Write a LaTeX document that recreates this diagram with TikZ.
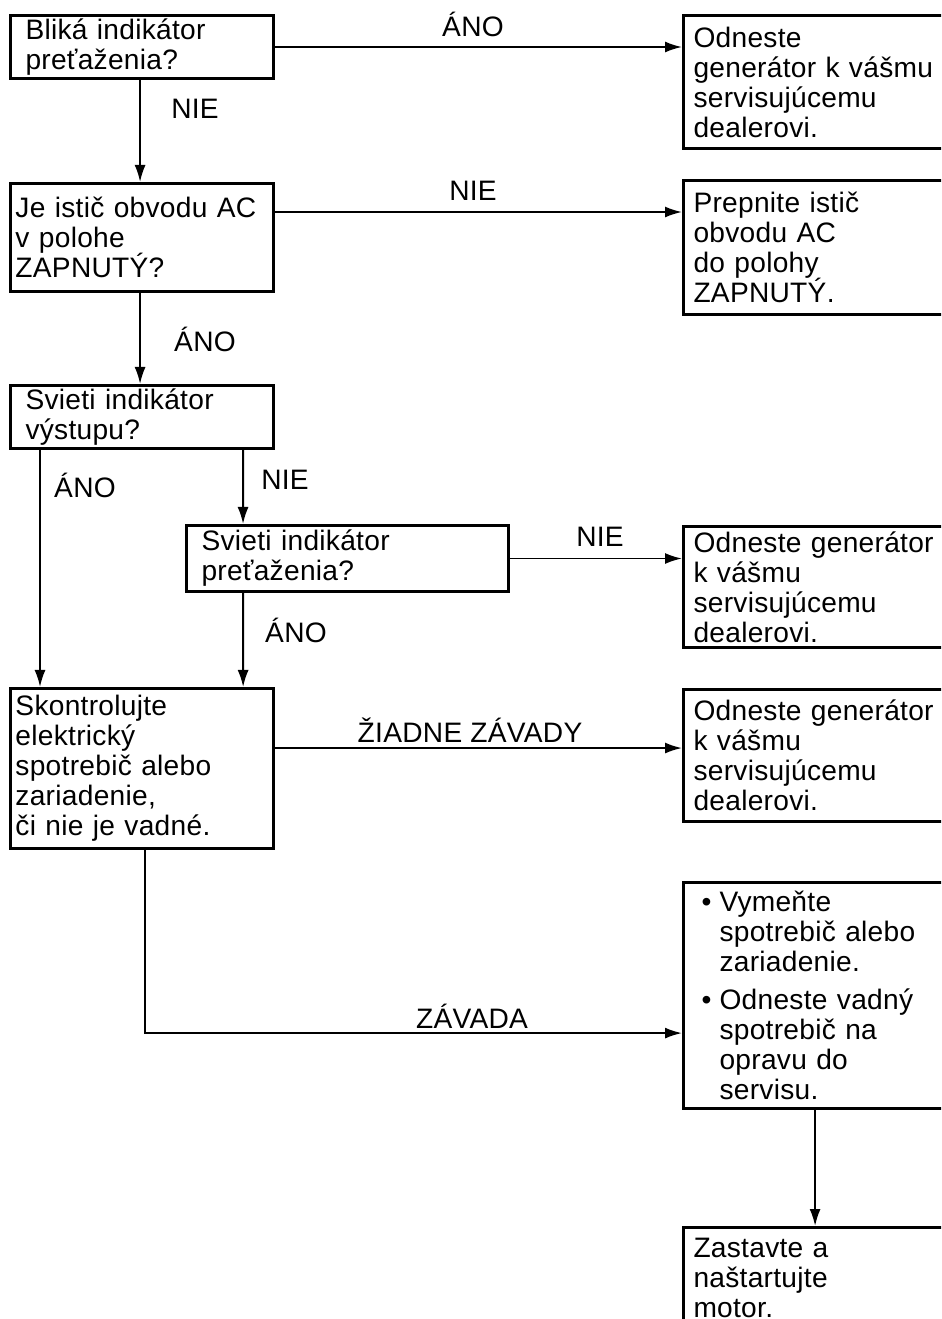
\documentclass[tikz,border=0pt]{standalone}
\usepackage{fontspec}
\setmainfont{Liberation Sans}[LetterSpace=1]
\usetikzlibrary{arrows.meta, positioning}

\newcommand{\bod}{\hspace*{0.08cm}\makebox[0.18cm][l]{\textbullet}}
\newcommand{\odsad}{\hspace*{0.26cm}}

\begin{document}
\begin{tikzpicture}[
    x=0.01cm, y=-0.01cm,
    every node/.style={font={\fontsize{8}{8.54}\selectfont\lineskiplimit=-10pt}},
    box/.style={draw, line width=0.85pt, anchor=north west, inner xsep=0.15cm, inner ysep=0pt, align=left},
    rbox/.style={box, inner xsep=0.1cm, minimum width=3cm, text width=2.8cm},
    lbl/.style={inner sep=0pt, anchor=base},
    arr/.style={-{Latex[length=0.17cm, width=0.11cm]}, line width=0.55pt}
  ]
  \useasboundingbox (0,0) rectangle (941,1319);
  \clip (0,0) rectangle (941,1319);

  % questions on the left
  \node[box, minimum width=2.63cm, minimum height=0.63cm, text width=2.33cm] (blika) at (9,14) {Bliká indikátor\\preťaženia?};
  \node[box, inner xsep=0.05cm, minimum height=1.08cm, text width=2.53cm] (istic) at (9,182) {Je istič obvodu AC\\v polohe\\ZAPNUTÝ?};
  \node[box, minimum height=0.63cm, text width=2.33cm] (vystup) at (9,384) {Svieti indikátor\\výstupu?};
  \node[box, minimum height=0.66cm, text width=2.92cm] (pretaz) at (185,524) {Svieti indikátor\\preťaženia?};
  \node[box, inner xsep=0.05cm, minimum height=1.60cm, text width=2.53cm] (kontrola) at (9,687) {Skontrolujte\\elektrický\\spotrebič alebo\\zariadenie,\\či nie je vadné.};

  % actions on the right
  \node[rbox, minimum height=1.33cm] (dealer1) at (682,14) {Odneste\\generátor k vášmu\\servisujúcemu\\dealerovi.};
  \node[rbox, minimum height=1.34cm] (prepnite) at (682,179) {Prepnite istič\\obvodu AC\\do polohy\\ZAPNUTÝ.};
  \node[rbox, minimum height=1.21cm] (dealer2) at (682,525) {Odneste generátor\\k vášmu\\servisujúcemu\\dealerovi.};
  \node[rbox, minimum height=1.32cm] (dealer3) at (682,688) {Odneste generátor\\k vášmu\\servisujúcemu\\dealerovi.};
  \node[rbox, minimum height=2.26cm] (vymente) at (682,881) {\bod Vymeňte\\\odsad spotrebič alebo\\\odsad zariadenie.\\[0.08cm]\bod Odneste vadný\\\odsad spotrebič na\\\odsad opravu do\\\odsad servisu.};
  \node[rbox, minimum height=1.0cm] (motor) at (682,1226) {Zastavte a\\naštartujte\\motor.};

  % vertical connectors
  \draw[arr] ([xshift=1.31cm]blika.south west) -- ([xshift=1.31cm]istic.north west);
  \draw[arr] ([xshift=1.31cm]istic.south west) -- ([xshift=1.31cm]vystup.north west);
  \draw[arr] ([xshift=0.31cm]vystup.south west) -- ([xshift=0.31cm]kontrola.north west);
  \draw[arr] ([xshift=2.34cm]vystup.south west) -- ([xshift=0.58cm]pretaz.north west);
  \draw[arr] ([xshift=0.58cm]pretaz.south west) -- ([xshift=2.34cm]kontrola.north west);
  \draw[arr] ([xshift=1.33cm]vymente.south west) -- ([xshift=1.33cm]motor.north west);

  % horizontal connectors
  \coordinate (zBlika) at ([yshift=-0.33cm]blika.north east);
  \coordinate (zIstic) at ([yshift=-0.30cm]istic.north east);
  \coordinate (zKontrola) at ([yshift=-0.61cm]kontrola.north east);
  \draw[arr] (zBlika) -- (zBlika -| dealer1.west);
  \draw[arr] (zIstic) -- (zIstic -| prepnite.west);
  \draw[arr] (pretaz.east) -- (pretaz.east -| dealer2.west);
  \draw[arr] (zKontrola) -- (zKontrola -| dealer3.west);
  \draw[arr] ([xshift=1.36cm]kontrola.south west) |- ([yshift=-1.52cm]vymente.north west);

  % labels
  \node[lbl] (ano1) at (473,37) {ÁNO};
  \node[lbl] (nie1) at (195,119) {NIE};
  \node[lbl] (nie2) at (473,201) {NIE};
  \node[lbl] (ano2) at (205,352) {ÁNO};
  \node[lbl] (ano3) at (85,498) {ÁNO};
  \node[lbl] (nie3) at (285,489) {NIE};
  \node[lbl] (nie4) at (600,546) {NIE};
  \node[lbl] (ano4) at (296,642) {ÁNO};
  \node[lbl] (ziadne) at (470,742) {ŽIADNE ZÁVADY};
  \node[lbl] (zavada) at (472,1028) {ZÁVADA};
\end{tikzpicture}
\end{document}
